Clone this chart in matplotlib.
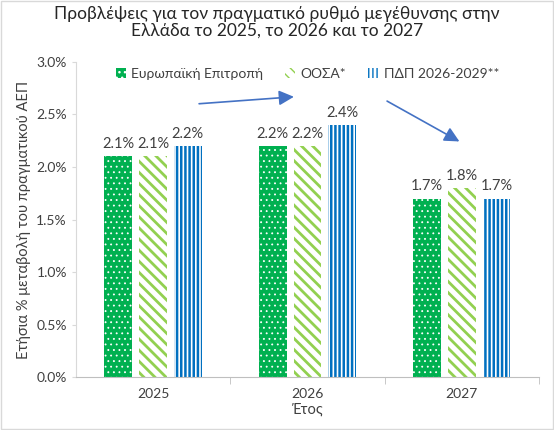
import matplotlib as mpl
import matplotlib.pyplot as plt
import numpy as np

plt.rcParams['font.family'] = ['Lato', 'Open Sans', 'DejaVu Sans']

years = ['2025', '2026', '2027']
series_names = ['Ευρωπαϊκή Επιτροπή', 'ΟΟΣΑ*', 'ΠΔΠ 2026-2029**']
ec = [2.1, 2.2, 1.7]
oecd = [2.1, 2.2, 1.8]
pdp = [2.2, 2.4, 1.7]

fig = plt.figure(figsize=(5.54, 4.30), dpi=100)
ax = fig.add_axes([0.137, 0.123, 0.836, 0.733])

x = np.arange(len(years))
w = 0.18
off = 0.225
styles = [
    dict(facecolor='#00b050', edgecolor='white', hatch='...'),
    dict(facecolor='white', edgecolor='#92d050', hatch='\\\\\\'),
    dict(facecolor='white', edgecolor='#0070c0', hatch='||||'),
]
hlw = [0.6, 2.0, 1.8]
for i, (vals, st, name) in enumerate(zip([ec, oecd, pdp], styles, series_names)):
    with mpl.rc_context({'hatch.linewidth': hlw[i]}):
        bars = ax.bar(x + (i - 1) * off, vals, w, linewidth=0, label=name, **st)
    for b in bars:
        if hasattr(b, 'set_hatch_linewidth'):
            b.set_hatch_linewidth(hlw[i])
    for b, v in zip(bars, vals):
        ax.text(b.get_x() + b.get_width() / 2, v + 0.05, f'{v:.1f}%',
                ha='center', va='bottom', fontsize=10.5, color='#404040')

ax.set_xlim(-0.5, 2.5)
ax.set_ylim(0, 3.0)
ax.set_yticks(np.arange(0, 3.01, 0.5))
ax.set_yticklabels([f'{v:.1f}%' for v in np.arange(0, 3.01, 0.5)])
ax.set_xticks(x)
ax.set_xticklabels(years)
ax.set_xticks([0.5, 1.5, 2.5], minor=True)
ax.tick_params(axis='x', which='major', length=0, labelsize=10, colors='#404040', pad=8)
ax.tick_params(axis='x', which='minor', length=5, color='#bfbfbf')
ax.tick_params(axis='y', length=3, color='#d9d9d9', labelsize=10, labelcolor='#404040')
for s in ['top', 'right']:
    ax.spines[s].set_visible(False)
ax.spines['left'].set_color('#d9d9d9')
ax.spines['bottom'].set_color('#bfbfbf')

ax.set_xlabel('Έτος', fontsize=10.5, color='#404040', labelpad=2)
ax.set_ylabel('Ετήσια % μεταβολή του πραγματικού ΑΕΠ', fontsize=10.5, color='#404040')

fig.suptitle('Προβλέψεις για τον πραγματικό ρυθμό μεγέθυνσης στην\nΕλλάδα το 2025, το 2026 και το 2027',
             fontsize=12.5, color='#262626', y=0.985, linespacing=1.0)

leg = ax.legend(loc='upper center', bbox_to_anchor=(0.5, 1.02), ncol=3, frameon=False,
                fontsize=10, handlelength=0.7, handleheight=0.7, handletextpad=0.4,
                columnspacing=1.6, labelcolor='#404040')

arrow_kw = dict(arrowstyle='-|>,head_length=0.9,head_width=0.45', color='#4472c4', lw=1.2)
ax.annotate('', xy=(0.93, 2.67), xytext=(0.28, 2.60), arrowprops=arrow_kw)
ax.annotate('', xy=(2.0, 2.23), xytext=(1.50, 2.64), arrowprops=arrow_kw)

fig.patches.append(plt.Rectangle((0.002, 0.002), 0.996, 0.996, transform=fig.transFigure,
                                 fill=False, edgecolor='#d9d9d9', lw=1))

fig.savefig('out.png', dpi=100)
